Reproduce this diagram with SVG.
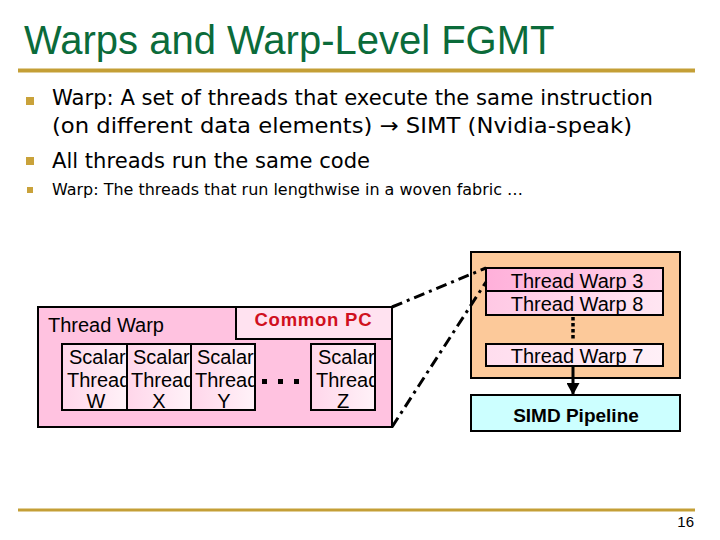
<svg xmlns="http://www.w3.org/2000/svg" width="720" height="540" viewBox="0 0 720 540">
<style>
.title{font-family:"Liberation Sans",Arial,sans-serif;font-size:40px;fill:#0B6B3A}
.bt{font-family:"DejaVu Sans",Tahoma,sans-serif;fill:#000}
.lbl{font-family:"Liberation Sans",Arial,sans-serif;font-size:20px;fill:#000}
.box{stroke:#000;stroke-width:2}
.bul{fill:#C9A23A}
.dd{fill:none;stroke:#000;stroke-width:3;stroke-dasharray:11 5 3 5}
</style>
<defs>
<linearGradient id="gScalar" x1="0" y1="0" x2="1" y2="0">
<stop offset="0" stop-color="#FFD6EA"/><stop offset="1" stop-color="#FFF2F8"/>
</linearGradient>
<linearGradient id="gW3" x1="0" y1="0" x2="1" y2="0">
<stop offset="0" stop-color="#FFB0DA"/><stop offset="1" stop-color="#FFD2E9"/>
</linearGradient>
<linearGradient id="gW8" x1="0" y1="0" x2="1" y2="0">
<stop offset="0" stop-color="#FFC8E4"/><stop offset="1" stop-color="#FFE6F2"/>
</linearGradient>
<linearGradient id="gW7" x1="0" y1="0" x2="1" y2="0">
<stop offset="0" stop-color="#FFDDEE"/><stop offset="1" stop-color="#FFF0F7"/>
</linearGradient>
<clipPath id="cW"><rect x="62" y="344" width="65" height="66"/></clipPath>
<clipPath id="cX"><rect x="127" y="344" width="64" height="66"/></clipPath>
<clipPath id="cY"><rect x="191" y="344" width="64" height="66"/></clipPath>
<clipPath id="cZ"><rect x="311" y="344" width="64" height="66"/></clipPath>
<marker id="ah" markerWidth="13" markerHeight="13" refX="12" refY="6.5" orient="auto" markerUnits="userSpaceOnUse">
<path d="M0,0 L12,6.5 L0,13 z" fill="#000"/>
</marker>
</defs>

<g id="title">
<text class="title" x="24" y="54">Warps and Warp-Level FGMT</text>
<rect x="18" y="68.5" width="677" height="4" fill="#C49F36"/>
</g>

<g id="bullets">
<rect class="bul" x="26" y="97" width="8" height="8"/>
<rect class="bul" x="26" y="157" width="8" height="8"/>
<rect class="bul" x="27" y="187" width="6" height="6"/>
<text class="bt" x="52" y="105" font-size="21" textLength="601" lengthAdjust="spacingAndGlyphs">Warp: A set of threads that execute the same instruction</text>
<text class="bt" x="52" y="133" font-size="21" textLength="580" lengthAdjust="spacingAndGlyphs">(on different data elements) → SIMT (Nvidia-speak)</text>
<text class="bt" x="52" y="168" font-size="21" textLength="318" lengthAdjust="spacingAndGlyphs">All threads run the same code</text>
<text class="bt" x="52" y="195" font-size="16" textLength="471" lengthAdjust="spacingAndGlyphs">Warp: The threads that run lengthwise in a woven fabric …</text>
</g>

<g id="thread-warp">
<rect class="box" x="38" y="307" width="354" height="120" fill="#FFC2E0"/>
<text class="lbl" x="48" y="332" font-size="19.5">Thread Warp</text>
</g>

<g id="common-pc">
<rect class="box" x="236" y="307" width="156" height="32" fill="#FFE2F0"/>
<text x="313" y="326" text-anchor="middle" font-family="Liberation Sans, Arial, sans-serif" font-weight="bold" font-size="18.5" fill="#D0101E" textLength="117" lengthAdjust="spacing">Common PC</text>
</g>

<g id="scalar-w">
<rect class="box" x="62" y="344" width="65" height="66" fill="url(#gScalar)"/>
<g clip-path="url(#cW)">
<text class="lbl" x="69" y="364">Scalar</text>
<text class="lbl" x="67" y="387">Thread</text>
<text class="lbl" x="96" y="408" text-anchor="middle">W</text>
</g>
</g>
<g id="scalar-x">
<rect class="box" x="127" y="344" width="64" height="66" fill="url(#gScalar)"/>
<g clip-path="url(#cX)">
<text class="lbl" x="133" y="364">Scalar</text>
<text class="lbl" x="131" y="387">Thread</text>
<text class="lbl" x="159" y="408" text-anchor="middle">X</text>
</g>
</g>
<g id="scalar-y">
<rect class="box" x="191" y="344" width="64" height="66" fill="url(#gScalar)"/>
<g clip-path="url(#cY)">
<text class="lbl" x="197" y="364">Scalar</text>
<text class="lbl" x="195" y="387">Thread</text>
<text class="lbl" x="224" y="408" text-anchor="middle">Y</text>
</g>
</g>
<g id="ellipsis">
<rect x="262" y="379" width="5" height="5" fill="#000"/>
<rect x="278" y="379" width="5" height="5" fill="#000"/>
<rect x="294" y="379" width="5" height="5" fill="#000"/>
</g>
<g id="scalar-z">
<rect class="box" x="311" y="344" width="64" height="66" fill="url(#gScalar)"/>
<g clip-path="url(#cZ)">
<text class="lbl" x="318" y="364">Scalar</text>
<text class="lbl" x="316" y="387">Thread</text>
<text class="lbl" x="343" y="408" text-anchor="middle">Z</text>
</g>
</g>

<g id="warp-pool">
<rect class="box" x="471" y="252" width="209" height="126" fill="#FCC99A"/>
</g>
<g id="warp-3">
<rect class="box" x="486" y="268" width="177" height="23" fill="url(#gW3)"/>
<text class="lbl" x="577" y="288" text-anchor="middle" font-size="21">Thread Warp 3</text>
</g>
<g id="warp-8">
<rect class="box" x="486" y="291" width="177" height="24" fill="url(#gW8)"/>
<text class="lbl" x="577" y="311" text-anchor="middle" font-size="21">Thread Warp 8</text>
</g>
<g id="warp-7">
<rect class="box" x="486" y="344" width="177" height="22" fill="url(#gW7)"/>
<text class="lbl" x="577" y="363" text-anchor="middle" font-size="21">Thread Warp 7</text>
</g>
<g id="simd">
<rect class="box" x="471" y="395" width="209" height="36" fill="#CCFFFF"/>
<text x="576" y="422" text-anchor="middle" font-family="Liberation Sans, Arial, sans-serif" font-weight="bold" font-size="19" fill="#000">SIMD Pipeline</text>
</g>

<g id="connectors">
<line x1="573" y1="317" x2="573" y2="341" stroke="#000" stroke-width="3.5" stroke-dasharray="3.5 2.5"/>
<line x1="573" y1="366" x2="573" y2="395" stroke="#000" stroke-width="3" marker-end="url(#ah)"/>
<path class="dd" d="M392,307 L486,268"/>
<path class="dd" d="M392,427 L486,282"/>
</g>

<g id="footer">
<rect x="18" y="508.5" width="677" height="3" fill="#C49F36"/>
<text x="694" y="527" text-anchor="end" font-family="Liberation Sans, Arial, sans-serif" font-size="15" fill="#000">16</text>
</g>
</svg>
